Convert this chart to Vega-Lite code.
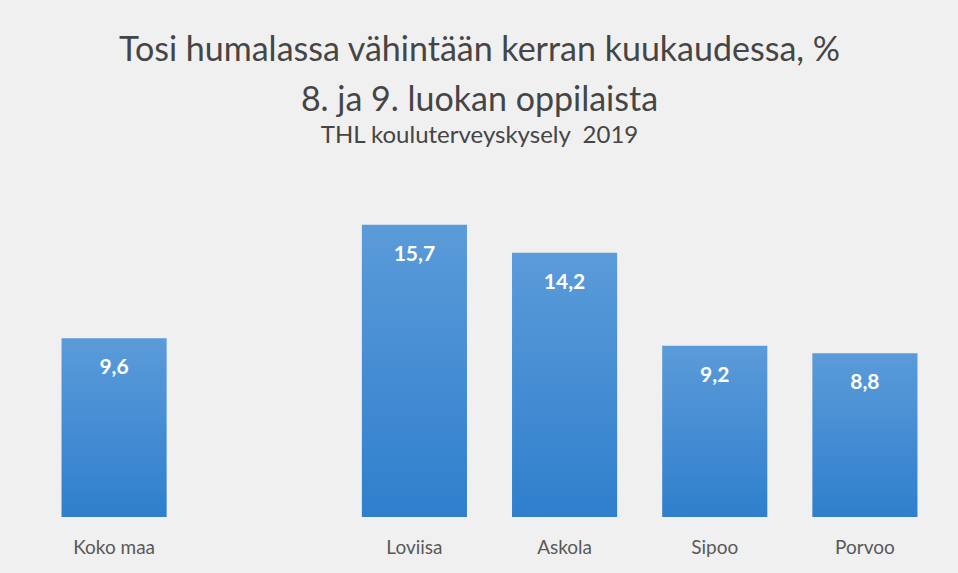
{
  "$schema": "https://vega.github.io/schema/vega-lite/v6.json",
  "width": 901,
  "height": 335,
  "autosize": "none",
  "padding": {"left": 39, "top": 182, "right": 18, "bottom": 56},
  "background": "#f0f0f0",
  "title": {
    "text": ["Tosi humalassa vähintään kerran kuukaudessa, %", "8. ja 9. luokan oppilaista"],
    "subtitle": "THL kouluterveyskysely\u00a0\u00a02019",
    "font": "Lato",
    "fontSize": 34,
    "fontWeight": "normal",
    "color": "#454545",
    "lineHeight": 50,
    "subtitleFont": "Lato",
    "subtitleFontSize": 24,
    "subtitleColor": "#454545",
    "subtitlePadding": 6,
    "anchor": "middle",
    "dx": -10,
    "offset": 34
  },
  "data": {
    "values": [
      {"alue": "Koko maa", "osuus": 9.6},
      {"alue": "Loviisa", "osuus": 15.7},
      {"alue": "Askola", "osuus": 14.2},
      {"alue": "Sipoo", "osuus": 9.2},
      {"alue": "Porvoo", "osuus": 8.8}
    ]
  },
  "encoding": {
    "x": {
      "field": "alue",
      "type": "nominal",
      "sort": null,
      "scale": {
        "domain": ["Koko maa", " ", "Loviisa", "Askola", "Sipoo", "Porvoo"],
        "paddingInner": 0.3,
        "paddingOuter": 0.15
      },
      "axis": {
        "title": null,
        "labelAngle": 0,
        "domain": false,
        "ticks": false,
        "grid": false,
        "labelFont": "Lato",
        "labelFontSize": 19,
        "labelColor": "#595959",
        "labelPadding": 21
      }
    },
    "y": {
      "field": "osuus",
      "type": "quantitative",
      "scale": {"domain": [0, 18]},
      "axis": null
    }
  },
  "layer": [
    {
      "mark": {
        "type": "bar",
        "color": {
          "gradient": "linear",
          "x1": 0, "y1": 0, "x2": 0, "y2": 1,
          "stops": [
            {"offset": 0, "color": "#5b9bd9"},
            {"offset": 1, "color": "#2f7fcd"}
          ]
        }
      }
    },
    {
      "mark": {
        "type": "text",
        "baseline": "middle",
        "dy": 30,
        "color": "white",
        "font": "Lato",
        "fontWeight": "bold",
        "fontSize": 21
      },
      "encoding": {
        "text": {"field": "osuus", "type": "quantitative", "format": ".1f"}
      }
    }
  ],
  "config": {
    "view": {"stroke": null},
    "locale": {
      "number": {
        "decimal": ",",
        "thousands": "\u00a0",
        "grouping": [3],
        "currency": ["", "\u00a0€"]
      }
    }
  }
}
